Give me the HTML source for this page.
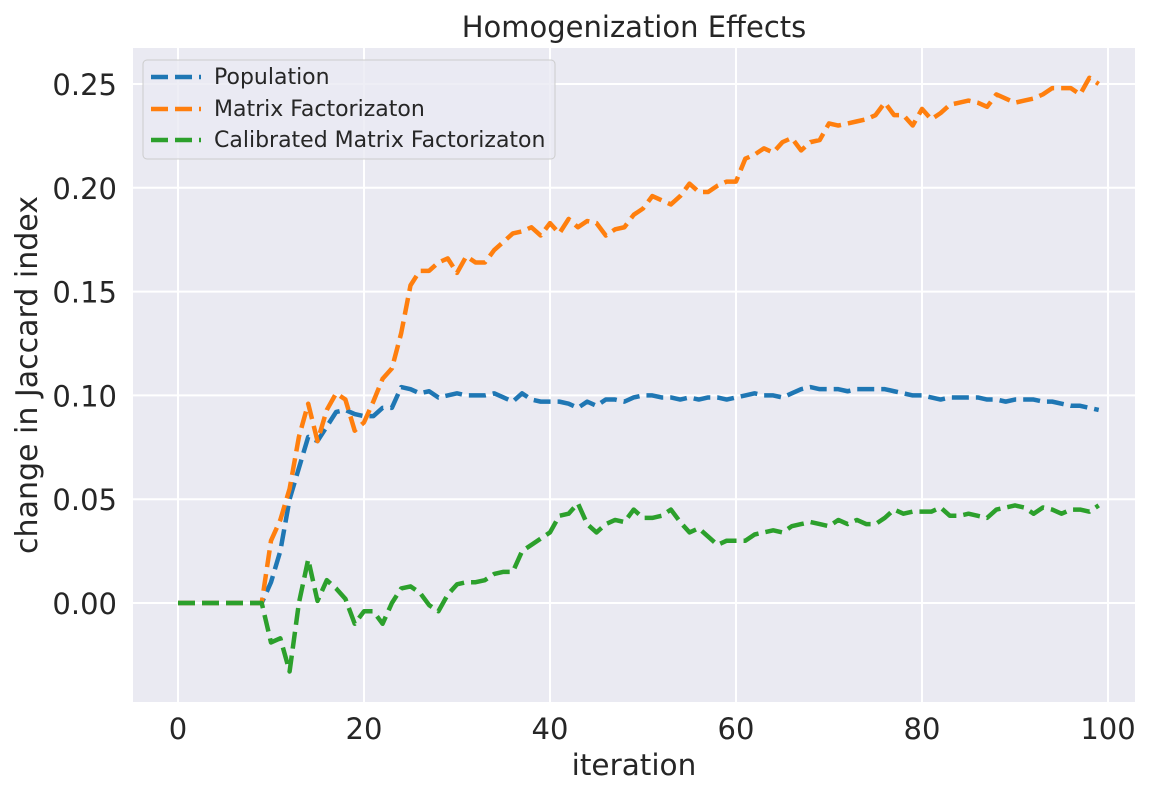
<!DOCTYPE html>
<html><head><meta charset="utf-8"><style>
body{margin:0;background:#fff;}
svg text{font-family:"DejaVu Sans","Liberation Sans",sans-serif;fill:#262626;}
</style></head><body>
<svg id="chart" width="1151" height="796">
<rect x="133" y="48" width="1002" height="654" fill="#eaeaf2"/>
<g id="grid"></g>
<g id="ticks"></g>
<g id="lines"></g>
<text x="634" y="37" text-anchor="middle" font-size="29">Homogenization Effects</text>
<text x="634" y="775" text-anchor="middle" font-size="29.5">iteration</text>
<text transform="translate(37,375) rotate(-90)" text-anchor="middle" font-size="30">change in Jaccard index</text>
<g>
<rect x="143" y="60" width="412" height="99" rx="4" fill="#eaeaf2" fill-opacity="0.8" stroke="#cccccc"/>
<line x1="151" y1="77" x2="201" y2="77" stroke="#1f77b4" stroke-width="4.5" stroke-dasharray="17,7"/>
<text x="214" y="84" font-size="22">Population</text>
<line x1="151" y1="109" x2="201" y2="109" stroke="#ff7f0e" stroke-width="4.5" stroke-dasharray="17,7"/>
<text x="214" y="116" font-size="22">Matrix Factorizaton</text>
<line x1="151" y1="140" x2="201" y2="140" stroke="#2ca02c" stroke-width="4.5" stroke-dasharray="17,7"/>
<text x="214" y="147" font-size="22">Calibrated Matrix Factorizaton</text>
</g>
</svg>
<script>
const xTicks=[0,20,40,60,80,100];
const yTicks=[0,0.05,0.10,0.15,0.20,0.25];
const yTickLabels=["0.00","0.05","0.10","0.15","0.20","0.25"];
const population=[0,0,0,0,0,0,0,0,0,0,0.01,0.025,0.05,0.065,0.08,0.078,0.085,0.092,0.093,0.091,0.09,0.09,0.094,0.094,0.104,0.103,0.101,0.102,0.099,0.1,0.101,0.1,0.1,0.1,0.101,0.099,0.097,0.101,0.098,0.097,0.097,0.097,0.096,0.094,0.097,0.095,0.098,0.098,0.097,0.099,0.1,0.1,0.099,0.099,0.098,0.099,0.098,0.099,0.099,0.098,0.099,0.1,0.101,0.1,0.1,0.099,0.101,0.103,0.104,0.103,0.103,0.103,0.102,0.103,0.103,0.103,0.103,0.102,0.101,0.1,0.1,0.099,0.098,0.099,0.099,0.099,0.099,0.098,0.098,0.097,0.098,0.098,0.098,0.097,0.097,0.096,0.095,0.095,0.094,0.093];
const matrixFact=[0,0,0,0,0,0,0,0,0,0,0.03,0.04,0.055,0.08,0.096,0.078,0.093,0.101,0.098,0.083,0.087,0.097,0.108,0.113,0.13,0.153,0.16,0.16,0.164,0.166,0.159,0.167,0.164,0.164,0.17,0.174,0.178,0.179,0.181,0.177,0.183,0.178,0.185,0.181,0.184,0.183,0.177,0.18,0.181,0.187,0.19,0.196,0.194,0.192,0.196,0.202,0.198,0.198,0.201,0.203,0.203,0.214,0.216,0.219,0.217,0.222,0.224,0.218,0.222,0.223,0.231,0.23,0.231,0.232,0.233,0.235,0.241,0.235,0.235,0.23,0.238,0.233,0.236,0.24,0.241,0.242,0.241,0.239,0.245,0.243,0.241,0.242,0.243,0.245,0.248,0.248,0.248,0.245,0.253,0.25];
const calibratedMF=[0,0,0,0,0,0,0,0,0,0,-0.019,-0.017,-0.033,0,0.021,0.001,0.011,0.007,0.002,-0.01,-0.004,-0.004,-0.01,0,0.007,0.008,0.005,-0.001,-0.004,0.004,0.009,0.01,0.01,0.011,0.014,0.015,0.015,0.025,0.028,0.031,0.034,0.042,0.043,0.048,0.038,0.034,0.038,0.04,0.039,0.045,0.041,0.041,0.042,0.045,0.039,0.034,0.036,0.032,0.028,0.03,0.03,0.03,0.033,0.034,0.035,0.034,0.037,0.038,0.039,0.038,0.037,0.04,0.038,0.04,0.038,0.038,0.041,0.045,0.043,0.044,0.044,0.044,0.046,0.042,0.042,0.043,0.042,0.041,0.045,0.046,0.047,0.046,0.043,0.046,0.045,0.043,0.045,0.045,0.044,0.047];

const NS='http://www.w3.org/2000/svg';
function xs(v){return 178+v*9.3;}
function ys(v){return 603-v*2076;}
const grid=document.getElementById('grid'),ticks=document.getElementById('ticks'),lines=document.getElementById('lines');
xTicks.forEach(t=>{
  const l=document.createElementNS(NS,'line');
  l.setAttribute('x1',xs(t));l.setAttribute('x2',xs(t));l.setAttribute('y1',48);l.setAttribute('y2',702);
  l.setAttribute('stroke','#fff');l.setAttribute('stroke-width','2');
  
  
  grid.appendChild(l);
  const tx=document.createElementNS(NS,'text');
  tx.setAttribute('x',xs(t));tx.setAttribute('y',739);tx.setAttribute('text-anchor','middle');tx.setAttribute('font-size','29');
  tx.textContent=t;
  
  
  ticks.appendChild(tx);
});
yTicks.forEach((t,i)=>{
  const l=document.createElementNS(NS,'line');
  l.setAttribute('x1',133);l.setAttribute('x2',1135);l.setAttribute('y1',ys(t));l.setAttribute('y2',ys(t));
  l.setAttribute('stroke','#fff');l.setAttribute('stroke-width','2');
  
  
  grid.appendChild(l);
  const tx=document.createElementNS(NS,'text');
  tx.setAttribute('x',117);tx.setAttribute('y',ys(t)+11);tx.setAttribute('text-anchor','end');tx.setAttribute('font-size','29');
  tx.textContent=yTickLabels[i];
  
  
  ticks.appendChild(tx);
});
function draw(arr,color,name){
  const p=document.createElementNS(NS,'polyline');
  p.setAttribute('points',arr.map((v,i)=>xs(i)+','+ys(v)).join(' '));
  p.setAttribute('fill','none');p.setAttribute('stroke',color);p.setAttribute('stroke-width','4.5');
  p.setAttribute('stroke-dasharray','17,7');p.setAttribute('stroke-linejoin','round');
  
  
  lines.appendChild(p);
}
draw(population,'#1f77b4','population-line');
draw(matrixFact,'#ff7f0e','matrix-factorization-line');
draw(calibratedMF,'#2ca02c','calibrated-mf-line');
</script>
</body></html>
